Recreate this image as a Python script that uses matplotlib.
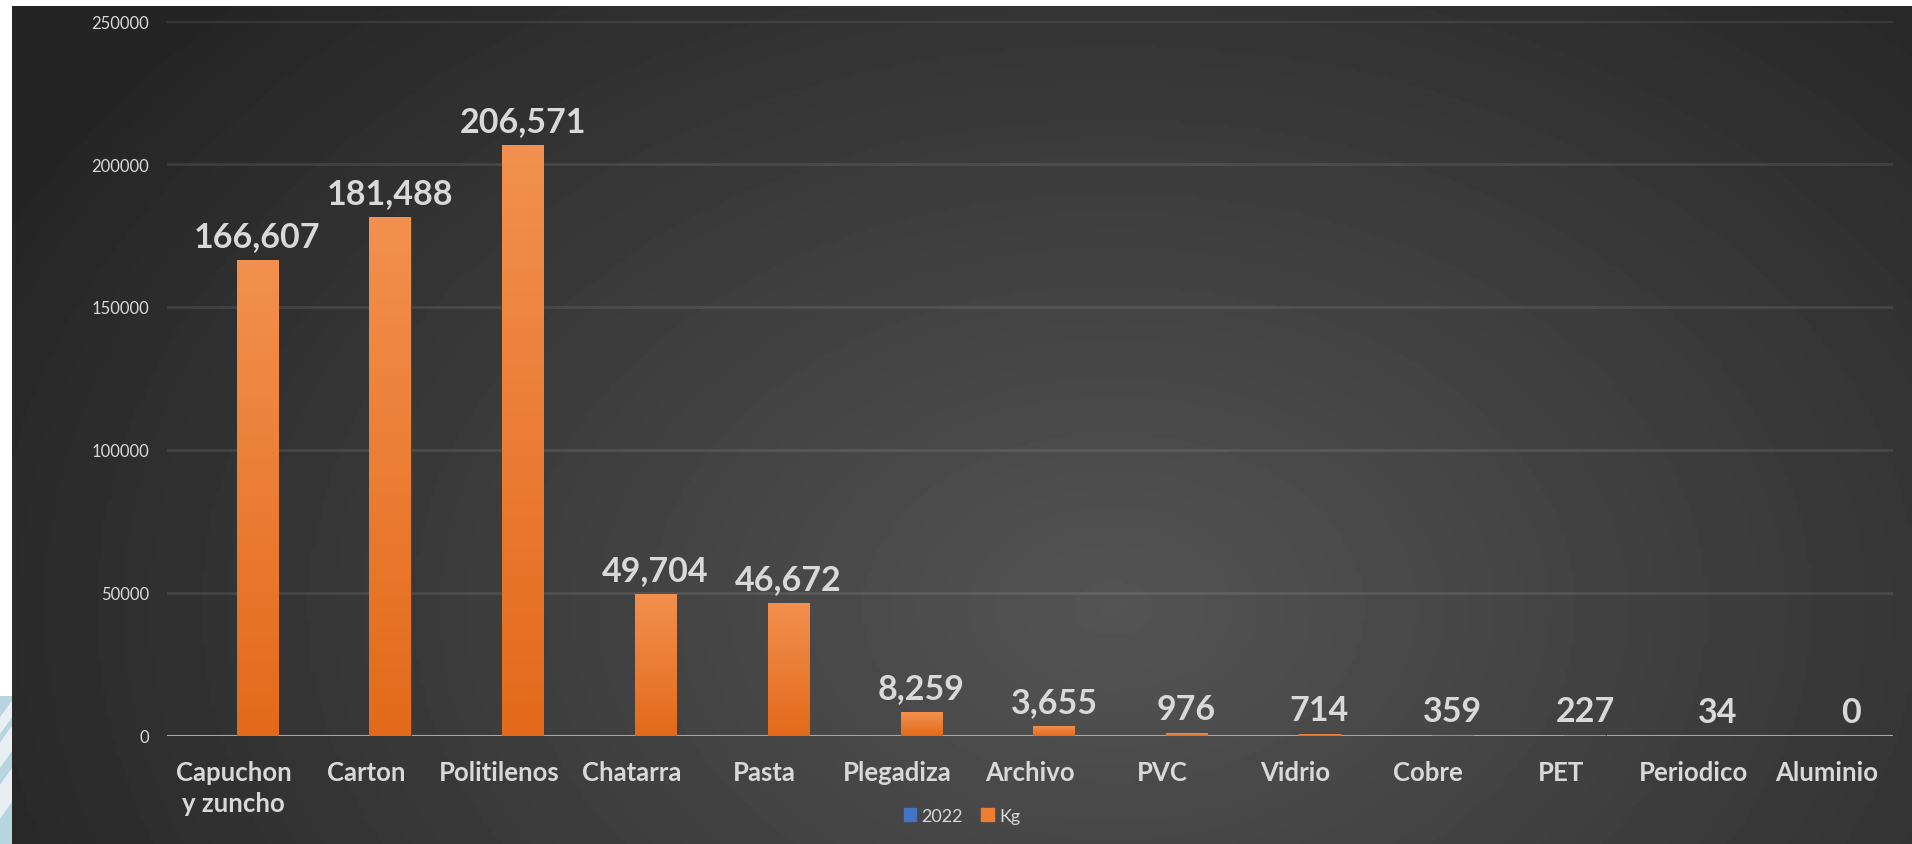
import numpy as np
import matplotlib.pyplot as plt
from matplotlib.patches import Rectangle, Polygon
from matplotlib.colors import LinearSegmentedColormap

plt.rcParams['font.family'] = ['Lato', 'DejaVu Sans']

# data
categories = ['Capuchon\ny zuncho', 'Carton', 'Politilenos', 'Chatarra', 'Pasta',
              'Plegadiza', 'Archivo', 'PVC', 'Vidrio', 'Cobre', 'PET',
              'Periodico', 'Aluminio']
kg = [166607, 181488, 206571, 49704, 46672, 8259, 3655, 976, 714, 359, 227, 34, 0]
serie_2022 = [0, 0, 0, 0, 0, 0, 0, 0, 0, 0, 0, 0, 0]
yticks = [0, 50000, 100000, 150000, 200000, 250000]

txt_col = '#d9d9d9'
blue = '#4472C4'
orange = '#ED7D31'

W, H = 1912, 845
fig = plt.figure(figsize=(W / 100, H / 100), dpi=100)
fig.patch.set_facecolor('white')

# decoration in the left margin
fig.patches.append(Rectangle((0, 0), 12 / W, 148 / H, transform=fig.transFigure,
                             facecolor='#b7d5e1', edgecolor='none'))
for y0, y1 in [(0.03, 0.07), (0.09, 0.12), (0.13, 0.15)]:
    fig.patches.append(Polygon([(0, y0), (12 / W, y0 + 0.02), (12 / W, y1 + 0.02), (0, y1)],
                               transform=fig.transFigure, facecolor='#e8eef1',
                               edgecolor='none'))

# dark radial gradient background
bg = fig.add_axes([12 / W, 0, 1 - 12 / W, 1 - 7 / H])
bg.set_zorder(-10)
xx, yy = np.meshgrid(np.linspace(0, 1, 400), np.linspace(0, 1, 200))
d = np.sqrt(((xx - 0.58) / 0.66) ** 2 + ((yy - 0.72) / 1.05) ** 2)
d = np.clip(d, 0, 1)
inner, outer = 0.33, 0.145
bg.imshow(inner + (outer - inner) * d, cmap='gray', vmin=0, vmax=1,
          extent=[0, 1, 0, 1], origin='upper', aspect='auto')
bg.axis('off')

ax = fig.add_axes([167 / W, (H - 737) / H, (1893 - 167) / W, (737 - 22) / H])
ax.set_facecolor('none')

x = np.arange(len(categories))
bw = 0.31
off = 0.18
ax.bar(x - off, serie_2022, bw, color=blue)
bars = ax.bar(x + off, kg, bw, color=orange, edgecolor='#5a3a22', linewidth=0.6, zorder=3)

# orange gradient inside each bar
cmap = LinearSegmentedColormap.from_list('org', ['#E36A1A', '#F3904F'])
grad = np.linspace(0, 1, 100).reshape(-1, 1)
for b in bars:
    if b.get_height() <= 0:
        continue
    bx, by = b.get_x(), b.get_y()
    im = ax.imshow(grad, cmap=cmap, origin='lower', aspect='auto', zorder=4,
                   extent=[bx, bx + b.get_width(), by, by + b.get_height()])
    im.set_clip_path(b)

for xi, v in zip(x, kg):
    ax.annotate(f'{v:,}', (xi + off, v), xytext=(0, 10), textcoords='offset points',
                ha='center', va='baseline', fontsize=24.5, fontweight='bold',
                color=txt_col, zorder=5)

ax.set_xlim(-0.5, len(categories) - 0.5)
ax.set_ylim(0, 250000)
ax.set_yticks(yticks)
ax.set_yticklabels([str(t) for t in yticks])
ax.set_xticks(x)
ax.set_xticklabels(categories, fontsize=18.5, fontweight='bold', color=txt_col,
                   linespacing=1.35)
ax.tick_params(axis='x', length=0, pad=17)
ax.tick_params(axis='y', length=0, pad=13, labelsize=12, labelcolor=txt_col)
ax.set_axisbelow(True)
ax.yaxis.grid(True, color='white', alpha=0.09, linewidth=2)
for s in ax.spines.values():
    s.set_visible(False)
ax.axhline(0, color='#a6a6a6', linewidth=1.5, zorder=2)

handles = [Rectangle((0, 0), 1, 1, color=blue), Rectangle((0, 0), 1, 1, color=orange)]
fig.legend(handles, ['2022', 'Kg'], loc='center', bbox_to_anchor=(962 / W, 1 - 817 / H),
           ncol=2, frameon=False, fontsize=13, labelcolor=txt_col,
           handlelength=0.7, handleheight=0.7, handletextpad=0.3, columnspacing=1.0)

plt.savefig('out.png', dpi=100)
